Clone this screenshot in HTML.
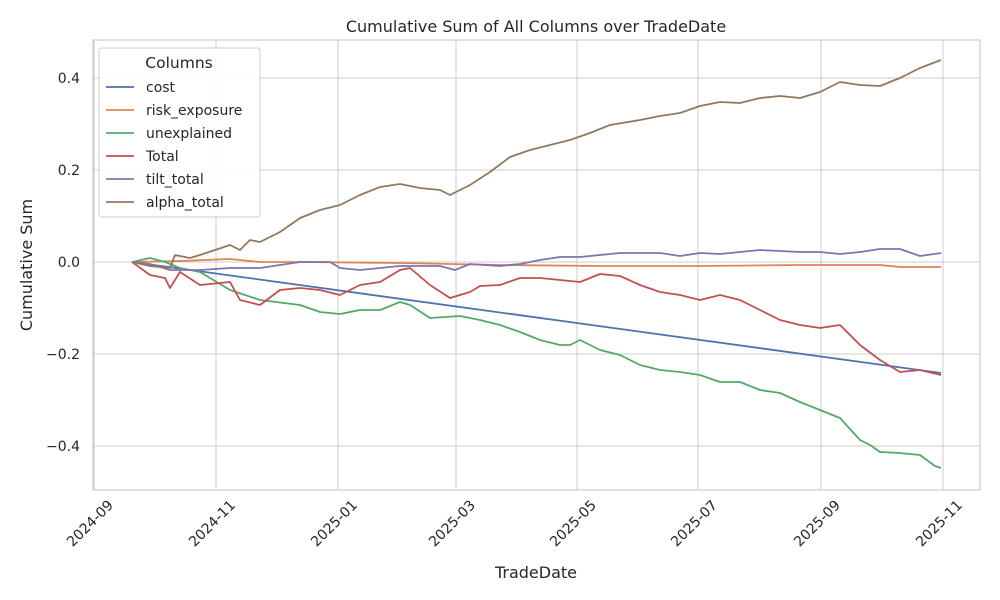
<!DOCTYPE html>
<html><head><meta charset="utf-8"><style>
html,body{margin:0;padding:0;background:#fff}
svg{display:block;font-family:"DejaVu Sans","Liberation Sans",sans-serif}
</style></head><body>
<svg width="1000" height="600" viewBox="0 0 1000 600">
<rect width="1000" height="600" fill="#fff"/>
<g stroke="#cccccc" stroke-width="1">
<line x1="94" y1="40" x2="94" y2="490"/><line x1="216" y1="40" x2="216" y2="490"/>
<line x1="338" y1="40" x2="338" y2="490"/><line x1="456" y1="40" x2="456" y2="490"/>
<line x1="577" y1="40" x2="577" y2="490"/><line x1="698" y1="40" x2="698" y2="490"/>
<line x1="821" y1="40" x2="821" y2="490"/><line x1="943" y1="40" x2="943" y2="490"/>
<line x1="93" y1="78" x2="980" y2="78"/><line x1="93" y1="170" x2="980" y2="170"/>
<line x1="93" y1="262" x2="980" y2="262"/><line x1="93" y1="354" x2="980" y2="354"/>
<line x1="93" y1="446" x2="980" y2="446"/>
</g>
<rect x="93" y="40" width="887" height="450" fill="none" stroke="#cccccc" stroke-width="1.2"/>
<g fill="none" stroke-width="1.8" stroke-linejoin="round">
<polyline stroke="#4c72b0" points="132,262 941,373"/>
<polyline stroke="#dd8452" points="132,262 180,261 230,259 260,262 300,262 400,263 500,265 600,266 700,266 800,265 880,265 900,267 941,267"/>
<polyline stroke="#55a868" points="132,262 150,258 165,262 180,268 200,272 230,290 260,300 300,305 320,312 340,314 360,310 380,310 400,302 410,305 430,318 460,316 480,320 500,325 520,332 540,340 560,345 570,345 580,340 600,350 620,355 640,365 660,370 680,372 700,375 720,382 740,382 760,390 780,393 800,402 820,410 840,418 860,440 870,445 880,452 900,453 920,455 935,466 941,468"/>
<polyline stroke="#c44e52" points="132,262 150,275 165,278 170,288 180,272 200,285 230,282 240,300 260,305 280,290 300,288 320,290 340,295 360,285 380,282 400,270 410,268 430,285 450,298 470,292 480,286 500,285 520,278 540,278 560,280 580,282 600,274 620,276 640,285 660,292 680,295 700,300 720,295 740,300 760,310 780,320 800,325 820,328 840,325 860,345 880,360 900,372 920,370 941,375"/>
<polyline stroke="#8172b3" points="132,262 150,264 170,270 200,270 230,268 260,268 300,262 330,262 340,268 360,270 380,268 400,266 420,266 440,266 455,270 470,264 500,266 520,264 540,260 560,257 580,257 600,255 620,253 640,253 660,253 680,256 700,253 720,254 740,252 760,250 780,251 800,252 820,252 840,254 860,252 880,249 900,249 920,256 941,253"/>
<polyline stroke="#937860" points="132,262 150,266 170,268 175,255 190,258 200,255 215,250 230,245 240,250 250,240 260,242 270,237 280,232 300,218 320,210 340,205 360,195 380,187 400,184 420,188 440,190 450,195 470,185 490,172 510,157 530,150 550,145 570,140 590,133 610,125 640,120 660,116 680,113 700,106 720,102 740,103 760,98 780,96 800,98 820,92 840,82 860,85 880,86 900,78 920,68 941,60"/>
</g>
<g font-size="14" fill="#262626" text-anchor="end">
<text x="80" y="83">0.4</text><text x="80" y="175">0.2</text><text x="80" y="267">0.0</text>
<text x="80" y="359">−0.2</text><text x="80" y="451">−0.4</text>
</g>
<g font-size="14" fill="#262626" text-anchor="end">
<text transform="translate(114,506) rotate(-45)">2024-09</text>
<text transform="translate(236,506) rotate(-45)">2024-11</text>
<text transform="translate(358,506) rotate(-45)">2025-01</text>
<text transform="translate(476,506) rotate(-45)">2025-03</text>
<text transform="translate(597,506) rotate(-45)">2025-05</text>
<text transform="translate(718,506) rotate(-45)">2025-07</text>
<text transform="translate(841,506) rotate(-45)">2025-09</text>
<text transform="translate(963,506) rotate(-45)">2025-11</text>
</g>
<text x="536" y="32" font-size="16" fill="#262626" text-anchor="middle">Cumulative Sum of All Columns over TradeDate</text>
<text x="536" y="578" font-size="16" fill="#262626" text-anchor="middle">TradeDate</text>
<text transform="translate(32,265) rotate(-90)" font-size="16" fill="#262626" text-anchor="middle">Cumulative Sum</text>
<rect x="99" y="48" width="161" height="169" rx="3" fill="#fff" fill-opacity="0.85" stroke="#cccccc"/>
<text x="179" y="68" font-size="15.5" fill="#262626" text-anchor="middle">Columns</text>
<g stroke-width="1.8">
<line x1="106" y1="87" x2="134" y2="87" stroke="#4c72b0"/>
<line x1="106" y1="110" x2="134" y2="110" stroke="#dd8452"/>
<line x1="106" y1="133" x2="134" y2="133" stroke="#55a868"/>
<line x1="106" y1="156" x2="134" y2="156" stroke="#c44e52"/>
<line x1="106" y1="179" x2="134" y2="179" stroke="#8172b3"/>
<line x1="106" y1="202" x2="134" y2="202" stroke="#937860"/>
</g>
<g font-size="14" fill="#262626">
<text x="146" y="92">cost</text><text x="146" y="115">risk_exposure</text>
<text x="146" y="138">unexplained</text><text x="146" y="161">Total</text>
<text x="146" y="184">tilt_total</text><text x="146" y="207">alpha_total</text>
</g>
</svg>
</body></html>
